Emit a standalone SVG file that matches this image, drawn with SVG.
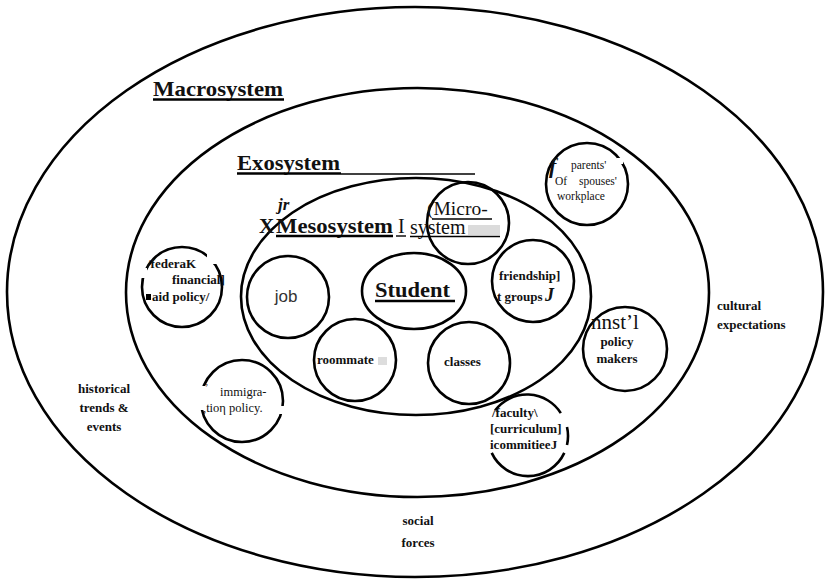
<svg xmlns="http://www.w3.org/2000/svg" width="826" height="580" viewBox="0 0 826 580">
<style>
.ring{fill:none;stroke:#000;stroke-width:2.6}
.node{fill:none;stroke:#000;stroke-width:2.6}
.gap{fill:#fff;stroke:none}
.t{font-family:"Liberation Serif","Times New Roman",serif;fill:#111}
.b{font-weight:bold}
.h{font-size:22px;font-weight:bold}
.s{font-size:13px;font-weight:bold}
.r{font-size:20px}
.sm{font-size:11.5px}
.ul{stroke:#000;stroke-width:2.4}
.ult{stroke:#000;stroke-width:1.4}
.ctr{text-anchor:middle}
</style>
<rect width="826" height="580" fill="#fff"/>
<g id="macrosystem">
<ellipse class="ring" cx="415" cy="292" rx="408" ry="285"/>
<text class="t h" x="153" y="96" textLength="130" lengthAdjust="spacingAndGlyphs">Macrosystem</text>
<line class="ul" x1="153" y1="99.5" x2="284" y2="99.5"/>
<text class="t s ctr" x="104" y="393">historical</text>
<text class="t s ctr" x="104" y="412">trends &amp;</text>
<text class="t s ctr" x="104" y="431">events</text>
<text class="t s" x="717" y="310">cultural</text>
<text class="t s" x="717" y="329">expectations</text>
<text class="t s ctr" x="418" y="525">social</text>
<text class="t s ctr" x="418" y="547">forces</text>
</g>
<g id="exosystem">
<ellipse class="ring" cx="417.5" cy="292.5" rx="291.5" ry="204.5"/>
<text class="t h" x="237" y="170" textLength="103" lengthAdjust="spacingAndGlyphs">Exosystem</text>
<line class="ul" x1="237" y1="173.5" x2="341" y2="173.5"/>
<line class="ult" x1="341" y1="174" x2="475" y2="174"/>
</g>
<g id="mesosystem">
<ellipse class="ring" cx="416" cy="296.5" rx="175" ry="118.5"/>
<text class="t b" x="278" y="210" font-size="17" font-style="italic">jr</text>
<text class="t b" x="259" y="233" font-size="21">X</text>
<text class="t h" x="276" y="233" textLength="117" lengthAdjust="spacingAndGlyphs">Mesosystem</text>
<line class="ul" x1="276" y1="236" x2="393" y2="236"/>
<text class="t r" x="398" y="233">I</text>
<line class="ult" x1="396" y1="236" x2="406" y2="236"/>
</g>
<g id="microsystem">
<circle class="node" cx="468" cy="223" r="41"/>
<text class="t" x="427" y="215" font-size="19.5">(Micro-</text>
<line class="ult" x1="432" y1="219" x2="492" y2="219"/>
<text class="t r" x="410" y="234">system</text>
<rect x="468" y="225" width="32" height="10" fill="#ccc" opacity="0.7"/>
<line class="ult" x1="410" y1="236.5" x2="500" y2="236.5"/>
</g>
<g id="student">
<ellipse class="node" cx="414" cy="291" rx="52" ry="38"/>
<text class="t h" x="375" y="297" textLength="75" lengthAdjust="spacingAndGlyphs">Student</text>
<line class="ul" x1="375" y1="301" x2="455" y2="301" stroke-width="3"/>
</g>
<g id="job">
<circle class="node" cx="288" cy="297" r="41"/>
<text x="286" y="302" font-family="Liberation Sans,Arial,sans-serif" font-size="17" fill="#333" text-anchor="middle">job</text>
</g>
<g id="roommate">
<circle class="node" cx="355" cy="360" r="41"/>
<text class="t s" x="317" y="364">roommate</text>
<rect x="378" y="357" width="9" height="8" fill="#ddd"/>
</g>
<g id="classes">
<circle class="node" cx="469" cy="363" r="41"/>
<text class="t s" x="444" y="366">classes</text>
</g>
<g id="friendship">
<circle class="node" cx="533" cy="281" r="41"/>
<text class="t s" x="499" y="280">friendship]</text>
<text class="t s" x="497" y="301">t groups</text>
<text class="t b" x="545" y="301" font-size="18" font-style="italic">J</text>
</g>
<g id="workplace">
<circle class="node" cx="587" cy="184" r="41"/>
<rect class="gap" x="617" y="158" width="6" height="6"/>
<text class="t b" x="549" y="173" font-size="22" font-style="italic">f</text>
<text class="t sm" x="571" y="169">parents'</text>
<text class="t sm" x="555" y="185">Of</text>
<text class="t sm" x="579" y="185">spouses'</text>
<text class="t sm" x="557" y="200">workplace</text>
</g>
<g id="policymakers">
<circle class="node" cx="625" cy="349" r="42"/>
<text class="t" x="591" y="329" font-size="21">nnst’l</text>
<text class="t s ctr" x="617" y="346">policy</text>
<text class="t s ctr" x="617" y="363">makers</text>
</g>
<g id="faculty">
<path class="node" d="M495.2,410.3 A40,40 0 0 1 560.8,413.1"/>
<path class="node" d="M567,427 A40,40 0 0 1 567,445"/>
<path class="node" d="M564.3,452.9 A40,40 0 0 1 491.7,452.9"/>
<text class="t s" x="492" y="417">/faculty\</text>
<text class="t s" x="490" y="433">[curriculum]</text>
<text class="t s" x="490" y="449">icommitieeJ</text>
</g>
<g id="federal">
<circle class="node" cx="182" cy="287" r="40"/>
<rect class="gap" x="207" y="252" width="16" height="12"/>
<rect class="gap" x="139" y="268" width="8" height="10"/>
<text class="t s" x="147" y="268">/federaK</text>
<text class="t s" x="172" y="284">financial]</text>
<rect x="146" y="294" width="5" height="6" fill="#000"/>
<text class="t s" x="152" y="301">aid policy/</text>
</g>
<g id="immigration">
<circle class="node" cx="242" cy="401" r="41"/>
<rect class="gap" x="198" y="386" width="8" height="24"/>
<rect class="gap" x="279" y="406" width="8" height="8"/>
<text class="t" x="205" y="391" font-size="10" fill="#555">’</text>
<text class="t" x="220" y="396" font-size="12.5" fill="#444">immigra-</text>
<text class="t" x="203" y="412" font-size="12.5" fill="#444">,tioη policy.</text>
</g>
<g id="connectors"></g>
</svg>
